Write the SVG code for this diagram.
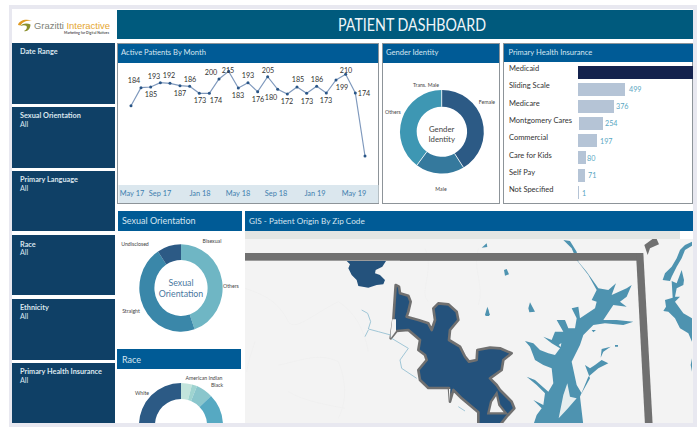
<svg xmlns="http://www.w3.org/2000/svg" width="697" height="427" viewBox="0 0 697 427">
<style>
text{font-family:Lato,"Open Sans","Noto Sans",sans-serif}
.side{fill:#0f4066}
.st{fill:#dbe6ee;font-size:7.300px;font-weight:700}
.sv{fill:#dbe6ee;font-size:7.200px}
.hdr{fill:#005b96}
.ht{fill:#d5e5f0;font-size:7.600px}
.ht2{fill:#d5e5f0;font-size:9px}
.panel{fill:#fff;stroke:#8d9499;stroke-width:1}
.v{fill:#333;font-size:7.200px;text-anchor:middle}
.ax{fill:#3f7fae;font-size:7.400px;text-anchor:middle}
.dl{fill:#444;font-size:5.200px;text-anchor:middle}
.cat{fill:#333;font-size:7.500px}
.bar{fill:#b5c4d6}
.num{fill:#5aa7c3;font-size:7.200px}
.water{fill:#4e93b0}
.road{fill:none;stroke:#eeeeee;stroke-width:2}
</style>
<defs>
<clipPath id="page"><rect x="12" y="9" width="681" height="414"/></clipPath>
<clipPath id="map"><rect x="245" y="239" width="448" height="184"/></clipPath>
</defs>
<rect width="697" height="427" fill="#fff"/>
<rect x="9" y="5" width="688" height="422" fill="#e8e8f0"/>
<rect x="12" y="9" width="681" height="414" fill="#fff"/>

<g id="logo">
<path d="M18 25C19 20.500 25 18.500 32 20.500C27 20.500 22.500 21.500 20.500 25.500Z" fill="#e09a22"/>
<path d="M20.500 26C23 23 27 23 30.500 24.500C30.500 28.500 27.500 32 24 31C26.500 30 27.500 27.500 26.500 26C25 25 23 25 20.500 26Z" fill="#8a8f2c"/>
<text x="34" y="28.500" style="font-family:'Liberation Sans',Arial,sans-serif" font-size="9.200" fill="#7d7f76" textLength="76" lengthAdjust="spacingAndGlyphs">Grazitti <tspan fill="#e5a52e">Interactive</tspan></text>
<text x="109" y="34" font-size="3.500" fill="#555" text-anchor="end" font-weight="700">Marketing for Digital Natives</text>
</g>

<g id="title">
<rect x="117" y="10" width="576" height="29" fill="#005a7d"/>
<text x="338" y="31" font-size="17" fill="#f0f6f9" textLength="148" lengthAdjust="spacingAndGlyphs">PATIENT DASHBOARD</text>
</g>

<g id="filter-date"><rect class="side" x="12" y="43" width="103" height="61"/><text class="st" x="20" y="54">Date Range</text></g>
<g id="filter-orientation"><rect class="side" x="12" y="107" width="103" height="61"/><text class="st" x="20" y="118">Sexual Orientation</text><text class="sv" x="20" y="127">All</text></g>
<g id="filter-language"><rect class="side" x="12" y="171" width="103" height="60"/><text class="st" x="20" y="182">Primary Language</text><text class="sv" x="20" y="191">All</text></g>
<g id="filter-race"><rect class="side" x="12" y="235" width="103" height="60"/><text class="st" x="20" y="247">Race</text><text class="sv" x="20" y="255">All</text></g>
<g id="filter-ethnicity"><rect class="side" x="12" y="299" width="103" height="61"/><text class="st" x="20" y="310">Ethnicity</text><text class="sv" x="20" y="319">All</text></g>
<g id="filter-insurance"><rect class="side" x="12" y="363" width="103" height="60"/><text class="st" x="20" y="374">Primary Health Insurance</text><text class="sv" x="20" y="383">All</text></g>

<g id="active-patients">
<rect class="panel" x="117.500" y="43.500" width="261" height="160"/>
<rect class="hdr" x="118" y="44" width="260" height="19"/>
<text class="ht" x="121" y="55">Active Patients By Month</text>
<rect x="118.500" y="185" width="260" height="18" fill="#dbe7ee"/>
<g transform="scale(0.33333)">
<polyline fill="none" stroke="#7f99bd" stroke-width="3.500" points="393,317 423,263 452,261 481,248 510,250 540,257 569,259 598,280 628,280 657,237 686,214 715,264 744,248 773,275 803,230 833,268 862,282 891,261 920,280 950,259 979,279 1008,240 1037,223 1066,279 1095,468"/>
<g fill="#2a5687"><circle cx="393" cy="317" r="4.500"/><circle cx="423" cy="263" r="4.500"/><circle cx="452" cy="261" r="4.500"/><circle cx="481" cy="248" r="4.500"/><circle cx="510" cy="250" r="4.500"/><circle cx="540" cy="257" r="4.500"/><circle cx="569" cy="259" r="4.500"/><circle cx="598" cy="280" r="4.500"/><circle cx="628" cy="280" r="4.500"/><circle cx="657" cy="237" r="4.500"/><circle cx="686" cy="214" r="4.500"/><circle cx="715" cy="264" r="4.500"/><circle cx="744" cy="248" r="4.500"/><circle cx="773" cy="275" r="4.500"/><circle cx="803" cy="230" r="4.500"/><circle cx="833" cy="268" r="4.500"/><circle cx="862" cy="282" r="4.500"/><circle cx="891" cy="261" r="4.500"/><circle cx="920" cy="280" r="4.500"/><circle cx="950" cy="259" r="4.500"/><circle cx="979" cy="279" r="4.500"/><circle cx="1008" cy="240" r="4.500"/><circle cx="1037" cy="223" r="4.500"/><circle cx="1066" cy="279" r="4.500"/><circle cx="1095" cy="468" r="4.500"/></g>
</g>
<text class="v" x="134" y="83">184</text><text class="v" x="151" y="97">185</text><text class="v" x="154" y="79">193</text><text class="v" x="169" y="78">192</text><text class="v" x="180" y="96">187</text><text class="v" x="190" y="82">186</text><text class="v" x="200" y="103">173</text><text class="v" x="211" y="75">200</text><text class="v" x="216" y="103">174</text><text class="v" x="228" y="73">215</text><text class="v" x="238" y="98">183</text><text class="v" x="248" y="78">193</text><text class="v" x="258" y="102">176</text><text class="v" x="271" y="100">180</text><text class="v" x="268" y="73">205</text><text class="v" x="287" y="104">172</text><text class="v" x="298" y="82">185</text><text class="v" x="307" y="104">173</text><text class="v" x="317" y="82">186</text><text class="v" x="326" y="103">173</text><text class="v" x="342" y="90">199</text><text class="v" x="346" y="73">210</text><text class="v" x="364" y="96">174</text>
<text class="ax" x="132" y="196">May 17</text><text class="ax" x="160" y="196">Sep 17</text><text class="ax" x="200" y="196">Jan 18</text><text class="ax" x="238" y="196">May 18</text><text class="ax" x="276" y="196">Sep 18</text><text class="ax" x="315" y="196">Jan 19</text><text class="ax" x="354" y="196">May 19</text>
</g>

<g id="gender-identity">
<rect class="panel" x="382.500" y="43.500" width="117" height="160"/>
<rect class="hdr" x="383" y="44" width="116" height="19"/>
<text class="ht" x="386" y="55">Gender Identity</text>
<path d="M441.700 90A41.700 41.700 0 0 1 463.500 167.500L454.500 153.400A25 25 0 0 0 441.700 106.700Z" fill="#2c5a85"/>
<path d="M463.500 167.500A41.700 41.700 0 0 1 416.900 165.200L426.800 151.800A25 25 0 0 0 454.500 153.400Z" fill="#35799d"/>
<path d="M416.900 165.200A41.700 41.700 0 0 1 441.700 90V106.700A25 25 0 0 0 426.800 151.800Z" fill="#3e97b3"/>
<path d="M441.700 90V106.700M463.500 167.500L454.500 153.400M416.900 165.200L426.800 151.800" stroke="#fff" stroke-width="0.800"/>
<text x="441.700" y="132" font-size="7.800" fill="#444" text-anchor="middle">Gender</text>
<text x="441.700" y="142" font-size="7.800" fill="#444" text-anchor="middle">Identity</text>
<text class="dl" x="426" y="87">Trans. Male</text><text class="dl" x="487" y="104">Female</text><text class="dl" x="393" y="113.500">Others</text><text class="dl" x="441" y="191">Male</text>
</g>

<g id="primary-insurance">
<rect class="panel" x="503.500" y="43.500" width="189" height="160"/>
<rect class="hdr" x="504" y="44" width="189" height="18"/>
<text class="ht" x="508.500" y="55">Primary Health Insurance</text>
<rect x="578" y="66" width="115" height="13" fill="#13224d"/>
<rect class="bar" x="578" y="83" width="47" height="13"/><rect class="bar" x="578" y="100" width="36" height="13"/><rect class="bar" x="579" y="117" width="24" height="13"/><rect class="bar" x="578" y="134" width="19" height="13"/><rect class="bar" x="578" y="151" width="8" height="13"/><rect class="bar" x="578" y="169" width="7" height="13"/><rect class="bar" x="578" y="186" width="1" height="13"/>
<text class="cat" x="509" y="71">Medicaid</text><text class="cat" x="509" y="88">Sliding Scale</text><text class="cat" x="509" y="106">Medicare</text><text class="cat" x="509" y="123">Montgomery Cares</text><text class="cat" x="509" y="140">Commercial</text><text class="cat" x="509" y="158">Care for Kids</text><text class="cat" x="509" y="175">Self Pay</text><text class="cat" x="509" y="192">Not Specified</text>
<text class="num" x="629" y="92">499</text><text class="num" x="616" y="109">376</text><text class="num" x="605" y="126">254</text><text class="num" x="600" y="144">197</text><text class="num" x="587" y="161">80</text><text class="num" x="588" y="178">71</text><text class="num" x="582" y="196">1</text>
</g>

<g id="sexual-orientation">
<rect class="hdr" x="118" y="211" width="124" height="20"/>
<text class="ht2" x="122" y="224">Sexual Orientation</text>
<g transform="translate(181 288) scale(1 1.050) translate(-181 -288)">
<path d="M181 246.300A41.700 41.700 0 0 1 194.600 327.400L189.700 313.200A26.700 26.700 0 0 0 181 261.300Z" fill="#6fb6c4"/>
<path d="M194.600 327.400A41.700 41.700 0 0 1 158 253.200L166.300 265.700A26.700 26.700 0 0 0 189.700 313.200Z" fill="#3a87a9"/>
<path d="M158 253.200A41.700 41.700 0 0 1 181 246.300V261.300A26.700 26.700 0 0 0 166.300 265.700Z" fill="#2c5a85"/>
</g>
<text x="181" y="285.500" font-size="8.800" fill="#4a78a0" text-anchor="middle">Sexual</text>
<text x="181" y="296.500" font-size="8.800" fill="#4a78a0" text-anchor="middle">Orientation</text>
<text class="dl" x="135" y="246">Undisclosed</text><text class="dl" x="212" y="243">Bisexual</text><text class="dl" x="231" y="288">Others</text><text class="dl" x="131" y="313">Straight</text>
</g>

<g id="race" clip-path="url(#page)">
<rect class="hdr" x="117" y="349" width="124" height="20"/>
<text class="ht2" x="122" y="363">Race</text>
<path d="M181 383A42 42 0 0 1 192 384.500L188 399.900A26 26 0 0 0 181 399Z" fill="#c2e4dc"/>
<path d="M192 384.500A42 42 0 0 1 197 386L191 401A26 26 0 0 0 188 399.900Z" fill="#9fd4d0"/>
<path d="M197 386A42 42 0 0 1 211 396L199.500 407A26 26 0 0 0 191 401Z" fill="#8ac6cc"/>
<path d="M211 396A42 42 0 0 1 223 425H207A26 26 0 0 0 199.500 407Z" fill="#56a9c2"/>
<path d="M139 425A42 42 0 0 1 181 383V399A26 26 0 0 0 155 425Z" fill="#2c5a85"/>
<text class="dl" x="142" y="395">White</text><text class="dl" x="204" y="380">American Indian</text><text class="dl" x="217" y="387">Black</text>
</g>

<g id="gis-map">
<rect class="hdr" x="245" y="211" width="448" height="20"/>
<text class="ht" x="249" y="224" style="font-size:8.200px">GIS - Patient Origin By Zip Code</text>
<rect x="245" y="231" width="448" height="192" fill="#f3f3f3"/>
<rect x="245" y="231" width="435" height="8" fill="#e3e5e3"/>
<rect x="680" y="231" width="13" height="8" fill="#fff"/>
<g clip-path="url(#map)">
<g transform="translate(245 205) scale(0.33333)">
<path class="road" d="M0 250C60 270 100 290 130 350C150 380 200 330 280 290M280 290C330 320 360 380 370 440M100 480C160 470 220 440 280 470C300 520 310 580 280 640M30 410C20 440 10 470 5 500M540 130C570 200 520 260 550 290M700 130C680 190 720 240 700 300M130 560C180 590 250 600 300 610"/>
<path d="M305 168H423L412 185L392 195L390 205L405 210L420 225L415 238L395 240L370 248L340 243L335 225L320 210L310 190L315 178Z" fill="#24527c"/>
<path d="M452 240L462 245L465 265L490 272L497 290L490 320L485 335L520 345L550 355L560 375L570 345L565 310L580 295L610 298L635 320L640 345L615 375L612 405L645 425L660 455L672 470L695 465L697 435L735 428L765 430L800 445L775 465L770 495L735 520L755 540L765 555L800 590L808 610L785 635L765 660H700V622L650 580L625 555L615 590L612 549H550L525 525L520 495L545 465L540 450L520 435L525 405L490 375L455 378L437 400L445 345Z" fill="#24527c" stroke="#707070" stroke-width="8" stroke-linejoin="round"/>
<path d="M442 343H453V378L437 400V385Z" fill="#f3f3f3"/>
<path d="M545 552H612V590L616 552Z" fill="#f3f3f3"/>
<path d="M730 625L738 590L755 565L763 600L783 625Z" fill="#f3f3f3" stroke="#707070" stroke-width="7"/>
<path d="M350 315L368 325L377 350L370 372L400 380L437 390M370 375L360 395M440 400L490 430L465 465L470 490L515 520M640 605L660 618" fill="none" stroke="#8fbdd0" stroke-width="2.500"/>
<path d="M710 128L725 115L727 126Z" class="water"/>
<path d="M720 330L727 305L735 330Z" class="water"/>
<rect y="144" width="1000" height="23" fill="#707070"/>
</g>
<g transform="translate(480 205) scale(0.33333)">
<path class="water" d="M250 105L270 108L290 140L295 170L320 200L355 250L385 255L408 235L395 270L440 250L455 240L440 275L420 290L440 305L400 300L370 345L410 345L460 350L430 360L375 355L340 360L310 390L300 420L275 470L290 540L305 565L330 520L315 480L330 490L345 480L365 465L385 475L355 490L325 515L300 575L310 660H160L170 630L185 610L160 585L190 600L195 565L170 540L140 515L165 525L205 560L220 535L215 490L190 480L165 465L150 425L135 408L160 415L180 435L205 445L225 450L240 430L215 415L190 395L215 405L225 380L250 380L230 345L255 345L265 370L285 370L290 340L275 310L295 305L300 340L345 310L350 290L335 285L350 255L325 210L290 165L275 130Z"/>
<path d="M236 640L250 570L262 535L270 575L290 580L262 612Z" fill="#e6eeef"/>
<path d="M365 432L392 425L370 440L362 458ZM405 420H414V425H405ZM335 375H348L340 382Z" class="water"/>
<path d="M236 420L244 414L242 426Z" fill="#f3f3f3"/>
<path class="water" d="M636 110V122L615 135L605 160L590 185L575 215L570 228L548 225L555 205L575 185L590 160L600 135L615 120Z"/>
<path class="water" d="M575 228L590 235L605 195L612 225L610 240L590 250L585 275L600 275L585 290L610 325L636 340V410L625 385L600 370L585 340L565 320L550 318L558 305L555 285L578 278ZM636 460L632 480L636 500Z"/>
<path class="water" d="M72 195L80 192L87 208L75 212ZM145 310L150 292L165 320L148 322ZM18 325L24 310L28 333L16 333Z"/>
<rect x="-240" y="144" width="729" height="23" fill="#707070"/>
<path d="M468 144H490L518 660H495Z" fill="#707070"/>
<path d="M503 150L493 120L527 95L537 118L510 130Z" fill="#707070"/>
</g>
</g>
</g>
</svg>
